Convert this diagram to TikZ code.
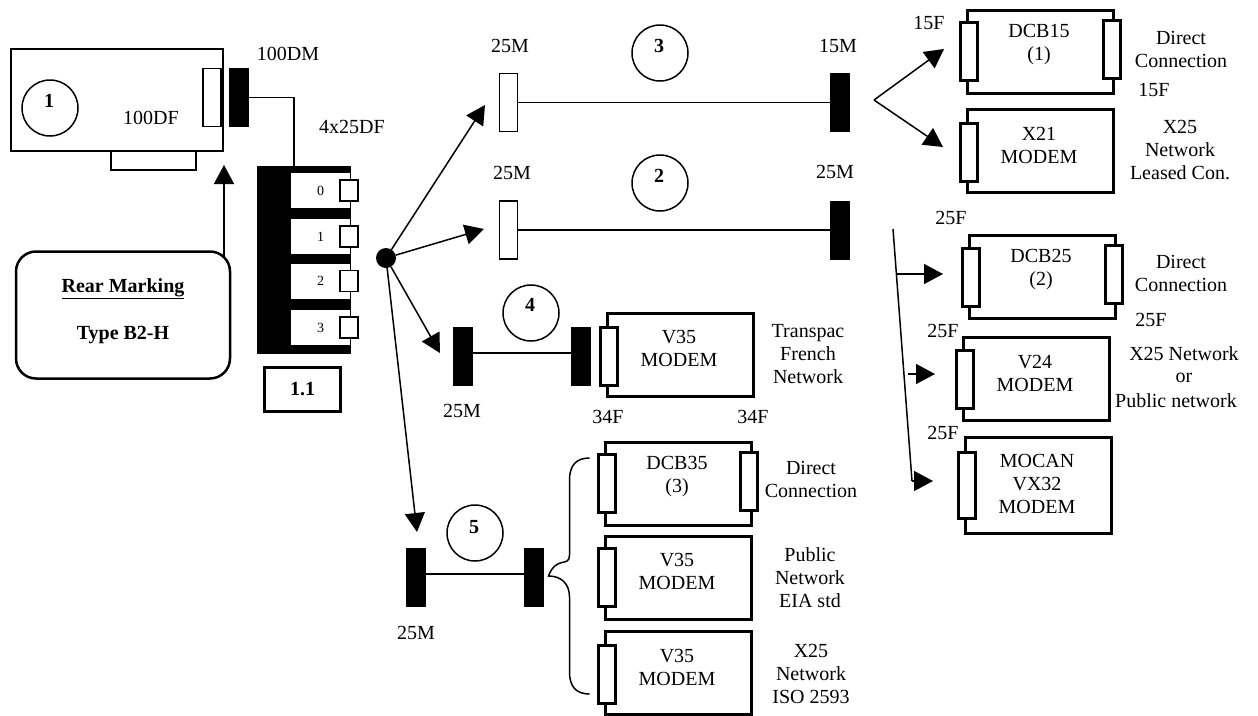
\documentclass[tikz,border=0pt]{standalone}
\usepackage{fontspec}
\setmainfont{Liberation Serif}
\usetikzlibrary{arrows.meta,positioning}

\begin{document}
\begin{tikzpicture}[
  x=1pt,y=-1pt,
  inner sep=0pt,outer sep=0pt,
  txt/.style={font=\fontsize{20}{23}\selectfont,align=center},
  bld/.style={font=\fontsize{20}{23}\selectfont\bfseries,align=center},
  num/.style={font=\fontsize{14}{16}\selectfont},
  thin box/.style={draw,line width=1.5pt,fill=white},
  modem/.style={draw,line width=3pt,minimum width=146pt,minimum height=83pt},
  port/.style={draw,fill=white,line width=3pt,minimum width=17pt,minimum height=58pt},
  plug/.style={fill=black,minimum width=20pt,minimum height=59pt},
  socket/.style={thin box,minimum width=18pt,minimum height=58pt},
  tag/.style={circle,draw,line width=1.5pt,minimum size=56pt},
  slot/.style={fill=white,minimum width=59pt,minimum height=35pt,num},
  pin/.style={thin box,minimum width=18pt,minimum height=21pt},
  ln/.style={line width=1.5pt},
  ar/.style={-{Triangle[length=19pt,width=20pt]},line width=1.5pt},
]
\useasboundingbox (0,0) rectangle (1258,715);

\node[thin box,minimum width=212pt,minimum height=102pt] (card) at (117,100) {};
\node[thin box,minimum width=85pt,minimum height=19pt] (cardtab) at (153.5,160.5) {};
\node[socket] (s100) at (212,97.5) {};
\node[plug] (p100) at (239,97.5) {};
\node[tag] (t1) at (50,108) {};
\node[bld] (n1) at (49,101) {1};
\node[txt] (l100df) at (151,118) {100DF};
\node[txt] (l100dm) at (288,54) {100DM};
\node[txt] (l4x25) at (352,127) {4x25DF};

\node[fill=black,minimum width=94pt,minimum height=188pt] (block) at (304,260) {};
\node[slot] (slot0) at (320.5,190.5) {0};
\node[slot] (slot1) at (320.5,236.5) {1};
\node[slot] (slot2) at (320.5,281) {2};
\node[slot] (slot3) at (320.5,327.5) {3};
\node[pin] (pin0) at (349,190.5) {};
\node[pin] (pin1) at (349,236.5) {};
\node[pin] (pin2) at (349,281) {};
\node[pin] (pin3) at (349,327.5) {};
\node[draw,line width=2.5pt,minimum width=76pt,minimum height=44pt,bld] (b11) at (302.5,389.5) {1.1};

\node[draw,line width=2.5pt,rounded corners=20pt,minimum width=214pt,minimum height=127pt] (rear) at (123,315) {};
\node[bld] (rear1) at (123,289) {\underline{Rear Marking}};
\node[bld] (rear2) at (123,335) {Type B2-H};

\node[circle,fill=black,minimum size=20pt] (hub) at (386,258) {};

\node[socket] (s3) at (508.5,102.5) {};
\node[plug] (p3) at (840,102.5) {};
\node[tag] (t3) at (660,53) {};
\node[bld] (n3) at (659,46) {3};
\node[txt] (l3a) at (510,46) {25M};
\node[txt] (l3b) at (838,46) {15M};

\node[socket] (s2) at (508.5,230) {};
\node[plug] (p2) at (840,230) {};
\node[tag] (t2) at (660,183) {};
\node[bld] (n2) at (659,176) {2};
\node[txt] (l2a) at (512,173) {25M};
\node[txt] (l2b) at (835,172) {25M};

\node[plug] (p4a) at (463,356) {};
\node[plug] (p4b) at (581,356) {};
\node[tag] (t4) at (531,313) {};
\node[bld] (n4) at (530,305) {4};
\node[txt] (l4a) at (462,411) {25M};
\node[txt] (l4b) at (608,417) {34F};
\node[txt] (l4c) at (753,417) {34F};
\node[modem] (m4) at (680,355) {};
\node[port] (m4p) at (609,356) {};
\node[txt] (m4t) at (679,348.5) {V35\\MODEM};
\node[txt] (m4n) at (808,354) {Transpac\\French\\Network};

\node[plug] (p5a) at (416,577.5) {};
\node[plug] (p5b) at (534,577.5) {};
\node[tag] (t5) at (475,533) {};
\node[bld] (n5) at (474,527) {5};
\node[txt] (l5a) at (416,633) {25M};

\node[modem] (m6) at (678,483.5) {};
\node[port] (m6p) at (607,483) {};
\node[port] (m6q) at (749,481.5) {};
\node[txt] (m6t) at (677,477) {DCB35\\(3)};
\node[txt] (m6n) at (811,479.5) {Direct\\Connection};
\node[modem] (m7) at (678,577.5) {};
\node[port] (m7p) at (607,577.5) {};
\node[txt] (m7t) at (677,571.5) {V35\\MODEM};
\node[txt] (m7n) at (810,578) {Public\\Network\\EIA std};
\node[modem] (m8) at (678,673) {};
\node[port] (m8p) at (607,674) {};
\node[txt] (m8t) at (677,667) {V35\\MODEM};
\node[txt] (m8n) at (811,674) {X25\\Network\\ISO 2593};

\node[modem] (m1) at (1040,51.5) {};
\node[port] (m1p) at (968.5,51.5) {};
\node[port] (m1q) at (1112,49.5) {};
\node[txt] (m1t) at (1039,45) {DCB15\\(1)};
\node[txt] (m1n) at (1181,49) {Direct\\Connection};
\node[txt] (l1a) at (929,23) {15F};
\node[txt] (l1b) at (1154,90) {15F};
\node[modem] (m0) at (1040,151) {};
\node[port] (m0p) at (968.5,152) {};
\node[txt] (m0t) at (1039,145) {X21\\MODEM};
\node[txt] (m0n) at (1180,150) {X25\\Network\\Leased Con.};

\node[txt] (l9a) at (951,218) {25F};
\node[modem] (m9) at (1042,276.5) {};
\node[port] (m9p) at (970.5,277) {};
\node[port] (m9q) at (1113.5,274) {};
\node[txt] (m9t) at (1041,270) {DCB25\\(2)};
\node[txt] (m9n) at (1181,273.5) {Direct\\Connection};
\node[txt] (l9b) at (1151,320) {25F};
\node[txt] (l10) at (943,331) {25F};
\node[modem] (m10) at (1036,378.5) {};
\node[port] (m10p) at (965,379.5) {};
\node[txt] (m10t) at (1035,373) {V24\\MODEM};
\node[txt] (m10a) at (1184,354) {X25 Network};
\node[txt] (m10b) at (1184,378) {or};
\node[txt] (m10c) at (1176,401) {Public network};
\node[txt] (l11) at (943,433) {25F};
\node[modem,minimum height=96pt] (m11) at (1038,485) {};
\node[port,minimum height=66pt] (m11p) at (967,485) {};
\node[txt] (m11t) at (1037,484) {MOCAN\\VX32\\MODEM};

\coordinate (rearS) at (224,257);
\coordinate (rearE) at (224,165);
\coordinate (hub3) at (485,105);
\coordinate (hub2) at (484,229);
\coordinate (hub4) at (440,353);
\coordinate (hub5) at (417,532);
\coordinate (fork) at (874,100);
\coordinate (fork1) at (944,49);
\coordinate (fork0) at (943,147);
\coordinate (busT) at (893,229);
\coordinate (busB) at (912,481);
\coordinate (bus9a) at (897,274);
\coordinate (bus9b) at (943,274);
\coordinate (bus10a) at (908,374);
\coordinate (bus10b) at (935,374);
\coordinate (bus11b) at (933,481);

\draw[ln] (p100.east) -- ++(45,0) -- (block.north -| 294,0);
\draw[ar] (rearS) -- (rearE);
\draw[ar] (hub) -- (hub3);
\draw[ar] (hub) -- (hub2);
\draw[ar] (hub) -- (hub4);
\draw[ar] (hub) -- (hub5);
\draw[ln] (s3) -- (p3);
\draw[ln] (s2) -- (p2);
\draw[ln] ([yshift=3pt]p4a.east) -- ([yshift=3pt]p4b.west);
\draw[ln] ([yshift=3.5pt]p5a.east) -- ([yshift=3.5pt]p5b.west);
\draw[ar] (fork) -- (fork1);
\draw[ar] (fork) -- (fork0);
\draw[ln] (busT) -- (busB);
\draw[ar] (bus9a) -- (bus9b);
\draw[ar] (bus10a) -- (bus10b);
\draw[ar] (busB) -- (bus11b);
\draw[ln] (m6p.west) ++(-9,-25) .. controls ++(-13,0) and ++(0,-15) .. ++(-20,22) -- ++(0,75) .. controls ++(0,13) and ++(8,-21) .. ++(-21,21) .. controls ++(13,0) and ++(0,-13) .. ++(21,21) -- ++(0,75) .. controls ++(0,15) and ++(-13,0) .. ++(20,22);
\end{tikzpicture}
\end{document}
